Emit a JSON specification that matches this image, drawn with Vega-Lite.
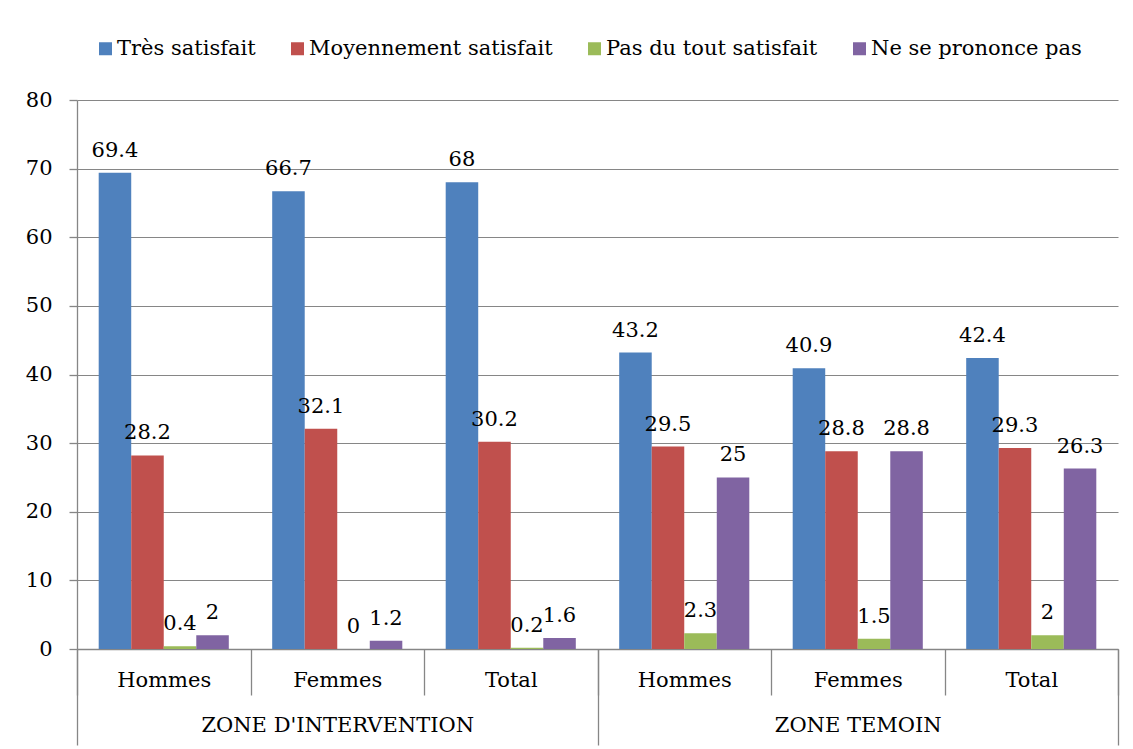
{
  "$schema": "https://vega.github.io/schema/vega-lite/v6.json",
  "width": 1041,
  "height": 549,
  "autosize": {"type": "none"},
  "padding": {"left": 77, "top": 100, "right": 15, "bottom": 100},
  "background": "white",
  "config": {
    "font": "DejaVu Serif",
    "view": {"stroke": null},
    "axis": {"labelFont": "DejaVu Serif", "labelFontSize": 21, "labelColor": "#000000", "domainColor": "#868686", "tickColor": "#868686", "gridColor": "#868686", "domainWidth": 1.3, "tickWidth": 1.3, "gridWidth": 1.2, "labelLimit": 600}
  },
  "data": {
    "values": [
      {"zone": "ZONE D'INTERVENTION", "key": "ZI|Hommes", "series": "Très satisfait", "value": 69.4},
      {"zone": "ZONE D'INTERVENTION", "key": "ZI|Hommes", "series": "Moyennement satisfait", "value": 28.2},
      {"zone": "ZONE D'INTERVENTION", "key": "ZI|Hommes", "series": "Pas du tout satisfait", "value": 0.4},
      {"zone": "ZONE D'INTERVENTION", "key": "ZI|Hommes", "series": "Ne se prononce pas", "value": 2},
      {"zone": "ZONE D'INTERVENTION", "key": "ZI|Femmes", "series": "Très satisfait", "value": 66.7},
      {"zone": "ZONE D'INTERVENTION", "key": "ZI|Femmes", "series": "Moyennement satisfait", "value": 32.1},
      {"zone": "ZONE D'INTERVENTION", "key": "ZI|Femmes", "series": "Pas du tout satisfait", "value": 0},
      {"zone": "ZONE D'INTERVENTION", "key": "ZI|Femmes", "series": "Ne se prononce pas", "value": 1.2},
      {"zone": "ZONE D'INTERVENTION", "key": "ZI|Total", "series": "Très satisfait", "value": 68},
      {"zone": "ZONE D'INTERVENTION", "key": "ZI|Total", "series": "Moyennement satisfait", "value": 30.2},
      {"zone": "ZONE D'INTERVENTION", "key": "ZI|Total", "series": "Pas du tout satisfait", "value": 0.2},
      {"zone": "ZONE D'INTERVENTION", "key": "ZI|Total", "series": "Ne se prononce pas", "value": 1.6},
      {"zone": "ZONE TEMOIN", "key": "ZT|Hommes", "series": "Très satisfait", "value": 43.2},
      {"zone": "ZONE TEMOIN", "key": "ZT|Hommes", "series": "Moyennement satisfait", "value": 29.5},
      {"zone": "ZONE TEMOIN", "key": "ZT|Hommes", "series": "Pas du tout satisfait", "value": 2.3},
      {"zone": "ZONE TEMOIN", "key": "ZT|Hommes", "series": "Ne se prononce pas", "value": 25},
      {"zone": "ZONE TEMOIN", "key": "ZT|Femmes", "series": "Très satisfait", "value": 40.9},
      {"zone": "ZONE TEMOIN", "key": "ZT|Femmes", "series": "Moyennement satisfait", "value": 28.8},
      {"zone": "ZONE TEMOIN", "key": "ZT|Femmes", "series": "Pas du tout satisfait", "value": 1.5},
      {"zone": "ZONE TEMOIN", "key": "ZT|Femmes", "series": "Ne se prononce pas", "value": 28.8},
      {"zone": "ZONE TEMOIN", "key": "ZT|Total", "series": "Très satisfait", "value": 42.4},
      {"zone": "ZONE TEMOIN", "key": "ZT|Total", "series": "Moyennement satisfait", "value": 29.3},
      {"zone": "ZONE TEMOIN", "key": "ZT|Total", "series": "Pas du tout satisfait", "value": 2},
      {"zone": "ZONE TEMOIN", "key": "ZT|Total", "series": "Ne se prononce pas", "value": 26.3}
    ]
  },
  "layer": [
    {
      "encoding": {
        "x": {
          "field": "key", "type": "nominal",
          "sort": ["ZI|Hommes", "ZI|Femmes", "ZI|Total", "ZT|Hommes", "ZT|Femmes", "ZT|Total"],
          "scale": {"paddingInner": 0, "paddingOuter": 0},
          "axis": {"orient": "bottom", "title": null, "labelAngle": 0, "labelExpr": "split(datum.label, '|')[1]", "tickBand": "extent", "tickSize": 46, "labelPadding": -15, "labelBaseline": "middle", "grid": false}
        },
        "xOffset": {
          "field": "series", "type": "nominal",
          "sort": ["Très satisfait", "Moyennement satisfait", "Pas du tout satisfait", "Ne se prononce pas"],
          "scale": {"paddingInner": 0, "paddingOuter": 0.667}
        },
        "y": {
          "field": "value", "type": "quantitative",
          "scale": {"domain": [0, 80], "nice": false},
          "axis": {"title": null, "values": [0, 10, 20, 30, 40, 50, 60, 70, 80], "tickSize": 8, "labelPadding": 17, "grid": true}
        }
      },
      "layer": [
        {
          "mark": {"type": "bar"},
          "encoding": {
            "color": {
              "field": "series", "type": "nominal",
              "sort": ["Très satisfait", "Moyennement satisfait", "Pas du tout satisfait", "Ne se prononce pas"],
              "scale": {"domain": ["Très satisfait", "Moyennement satisfait", "Pas du tout satisfait", "Ne se prononce pas"], "range": ["#4F81BD", "#C0504D", "#9BBB59", "#8064A2"]},
              "legend": {
                "title": null, "orient": "none", "direction": "horizontal", "legendX": 18, "legendY": -62,
                "symbolType": "square", "symbolSize": 169, "symbolStrokeWidth": 0, "labelFont": "DejaVu Serif", "labelFontSize": 21, "labelColor": "#000000",
                "labelOffset": 1, "columnPadding": 31, "padding": 0, "labelLimit": 400
              }
            }
          }
        },
        {
          "mark": {"type": "text", "baseline": "alphabetic", "dy": -16, "fontSize": 21, "font": "DejaVu Serif", "color": "#000000"},
          "encoding": {"text": {"field": "value", "type": "quantitative"}}
        }
      ]
    },
    {
      "mark": {"type": "point", "opacity": 0},
      "encoding": {
        "x": {
          "field": "zone", "type": "nominal",
          "sort": ["ZONE D'INTERVENTION", "ZONE TEMOIN"],
          "scale": {"paddingInner": 0, "paddingOuter": 0},
          "axis": {"orient": "bottom", "title": null, "labelAngle": 0, "tickBand": "extent", "tickSize": 96, "labelPadding": -20, "labelBaseline": "middle", "labelLimit": 600, "domain": false, "grid": false}
        },
        "y": {"field": "value", "type": "quantitative"}
      }
    }
  ],
  "resolve": {"scale": {"x": "independent"}, "axis": {"x": "independent"}}
}
